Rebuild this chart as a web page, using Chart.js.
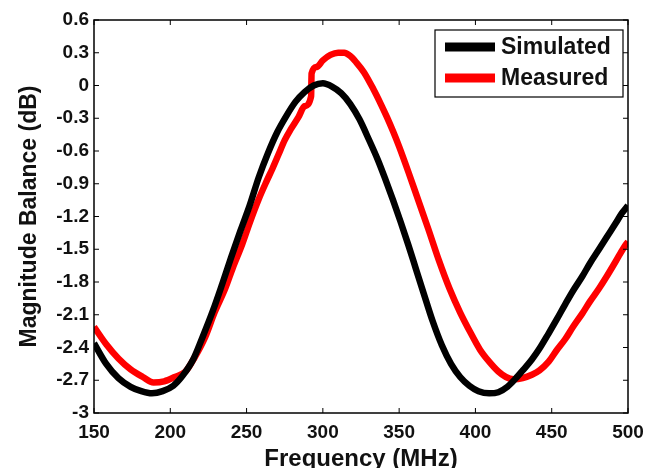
<!DOCTYPE html>
<html>
<head>
<meta charset="utf-8">
<script src="https://cdn.jsdelivr.net/npm/chart.js@4/dist/chart.umd.min.js"></script>
<style>
  html, body { margin: 0; padding: 0; background: #fff; }
  #wrap { width: 659px; height: 468px; position: relative; }
</style>
</head>
<body>
<div id="wrap"><canvas id="chart"></canvas></div>
<script>
// Frequency axis ticks and magnitude ticks
const xTicks = [150, 200, 250, 300, 350, 400, 450, 500];
const yTicks = [0.6, 0.3, 0, -0.3, -0.6, -0.9, -1.2, -1.5, -1.8, -2.1, -2.4, -2.7, -3];

// Simulated curve (MHz, dB)
const simFreq = [150, 158, 166, 174, 181, 188, 195, 202, 208, 215, 221, 228, 234, 240, 246, 252, 258, 264, 270, 276, 282, 288, 294, 300,
  306, 312, 318, 324, 330, 336, 341, 346, 351, 356, 361, 366, 372, 378, 384, 390, 396, 402, 409, 415, 421, 426, 431, 437, 442, 448,
  453, 459, 464, 470, 475, 481, 486, 492, 496, 500];
const simVal = [-2.36, -2.55, -2.68, -2.76, -2.80, -2.82, -2.80, -2.75, -2.66, -2.51, -2.31, -2.06, -1.82, -1.57, -1.33, -1.10, -0.84, -0.62, -0.43, -0.28, -0.15, -0.06, 0.0, 0.02,
  -0.01, -0.07, -0.17, -0.31, -0.49, -0.68, -0.86, -1.05, -1.25, -1.46, -1.68, -1.90, -2.16, -2.38, -2.55, -2.67, -2.75, -2.80, -2.82, -2.81, -2.76, -2.69, -2.61, -2.51, -2.41, -2.27,
  -2.15, -2.00, -1.88, -1.75, -1.63, -1.50, -1.39, -1.26, -1.17, -1.10];

// Measured curve (MHz, dB)
const measFreq = [150, 158, 166, 174, 182, 189, 196, 203, 210, 216, 223, 229, 236, 241, 247, 252, 258, 263, 267, 271, 275, 279, 284, 288,
  292.3, 292.6, 296, 300, 305, 310, 314, 318, 322, 327, 333, 338, 342, 346, 350, 356, 362, 369, 376, 383, 390, 397, 403, 409, 415, 420,
  425, 431, 437, 442, 448, 453, 459, 464, 470, 475, 481, 486, 492, 497, 500];
const measVal = [-2.21, -2.37, -2.50, -2.60, -2.67, -2.72, -2.71, -2.67, -2.62, -2.49, -2.30, -2.08, -1.86, -1.67, -1.46, -1.26, -1.04, -0.88, -0.76, -0.63, -0.50, -0.40, -0.29, -0.19,
  -0.10, 0.11, 0.17, 0.23, 0.28, 0.30, 0.30, 0.27, 0.21, 0.12, -0.03, -0.17, -0.29, -0.42, -0.56, -0.79, -1.03, -1.31, -1.60, -1.86, -2.08, -2.27, -2.42, -2.53, -2.62, -2.67,
  -2.69, -2.68, -2.65, -2.61, -2.53, -2.43, -2.32, -2.21, -2.09, -1.98, -1.86, -1.75, -1.61, -1.49, -1.43];

const seriesNames = ['Simulated', 'Measured'];
const seriesColors = ['#000000', '#ff0000'];

function pairs(xs, ys) {
  return xs.map((x, i) => ({ x: x, y: ys[i] }));
}

const FONT = 'Liberation Sans, Arial, sans-serif';
const TEXT = '#111111';

// box around plot with inward ticks, plus axis titles and legend
const framePlugin = {
  id: 'frame',
  afterDraw(chart) {
    const ctx = chart.ctx;
    const a = chart.chartArea;
    const xs = chart.scales.x, ys = chart.scales.y;
    const t = 5;
    ctx.save();
    ctx.strokeStyle = '#000';
    ctx.lineWidth = 1.5;
    ctx.strokeRect(a.left, a.top, a.right - a.left, a.bottom - a.top);
    ctx.lineWidth = 1;
    ctx.beginPath();
    xTicks.forEach(v => {
      const px = xs.getPixelForValue(v);
      ctx.moveTo(px, a.bottom); ctx.lineTo(px, a.bottom - t);
      ctx.moveTo(px, a.top); ctx.lineTo(px, a.top + t);
    });
    yTicks.forEach(v => {
      const py = ys.getPixelForValue(v);
      ctx.moveTo(a.left, py); ctx.lineTo(a.left + t, py);
      ctx.moveTo(a.right, py); ctx.lineTo(a.right - t, py);
    });
    ctx.stroke();

    // axis titles
    ctx.fillStyle = TEXT;
    ctx.font = 'bold 24px ' + FONT;
    ctx.textAlign = 'center';
    ctx.textBaseline = 'alphabetic';
    ctx.fillText('Frequency (MHz)', (a.left + a.right) / 2, 466);
    ctx.save();
    ctx.translate(30, (a.top + a.bottom) / 2);
    ctx.rotate(-Math.PI / 2);
    ctx.font = 'bold 23px ' + FONT;
    ctx.textBaseline = 'middle';
    ctx.fillText('Magnitude Balance (dB)', 0, 0);
    ctx.restore();

    // legend box
    const bx = a.right - 193, by = a.top + 10, bw = 188, bh = 67;
    ctx.fillStyle = '#fff';
    ctx.fillRect(bx, by, bw, bh);
    ctx.strokeStyle = '#000';
    ctx.lineWidth = 1.2;
    ctx.strokeRect(bx, by, bw, bh);
    ctx.font = 'bold 23px ' + FONT;
    ctx.textAlign = 'left';
    ctx.textBaseline = 'middle';
    chart.data.datasets.forEach((ds, i) => {
      const ly = by + 17 + i * 31;
      ctx.strokeStyle = ds.borderColor;
      ctx.lineWidth = 9;
      ctx.beginPath();
      ctx.moveTo(bx + 10, ly);
      ctx.lineTo(bx + 60, ly);
      ctx.stroke();
      ctx.fillStyle = TEXT;
      ctx.fillText(ds.label, bx + 66, ly + 1);
    });
    ctx.restore();
  }
};

const ctx = document.getElementById('chart').getContext('2d');
const chart = new Chart(ctx, {
  type: 'line',
  data: {
    datasets: [
      {
        label: seriesNames[0],
        data: pairs(simFreq, simVal),
        borderColor: seriesColors[0],
        borderWidth: 6.5,
        pointRadius: 0,
        cubicInterpolationMode: 'monotone',
        fill: false
      },
      {
        label: seriesNames[1],
        data: pairs(measFreq, measVal),
        borderColor: seriesColors[1],
        borderWidth: 6.5,
        pointRadius: 0,
        cubicInterpolationMode: 'monotone',
        fill: false
      }
    ]
  },
  options: {
    responsive: true,
    maintainAspectRatio: false,
    animation: false,
    layout: { padding: { left: 0, top: 20, right: 31, bottom: 0 } },
    plugins: {
      legend: { display: false },
      tooltip: { enabled: false }
    },
    scales: {
      x: {
        type: 'linear',
        min: 150,
        max: 500,
        afterBuildTicks: s => { s.ticks = xTicks.map(v => ({ value: v })); },
        afterFit: s => { s.height = 55; },
        grid: { display: false, drawTicks: false },
        border: { display: false },
        ticks: {
          padding: 8,
          color: TEXT,
          font: { family: FONT, size: 19, weight: 'bold' },
          maxRotation: 0,
          autoSkip: false,
          callback: v => String(v)
        }
      },
      y: {
        min: -3,
        max: 0.6,
        afterBuildTicks: s => { s.ticks = yTicks.map(v => ({ value: v })); },
        afterFit: s => { s.width = 94; },
        grid: { display: false, drawTicks: false },
        border: { display: false },
        ticks: {
          padding: 5,
          color: TEXT,
          font: { family: FONT, size: 19, weight: 'bold' },
          autoSkip: false,
          callback: v => String(Math.round(v * 10) / 10)
        }
      }
    }
  },
  plugins: [framePlugin]
});
</script>
</body>
</html>
